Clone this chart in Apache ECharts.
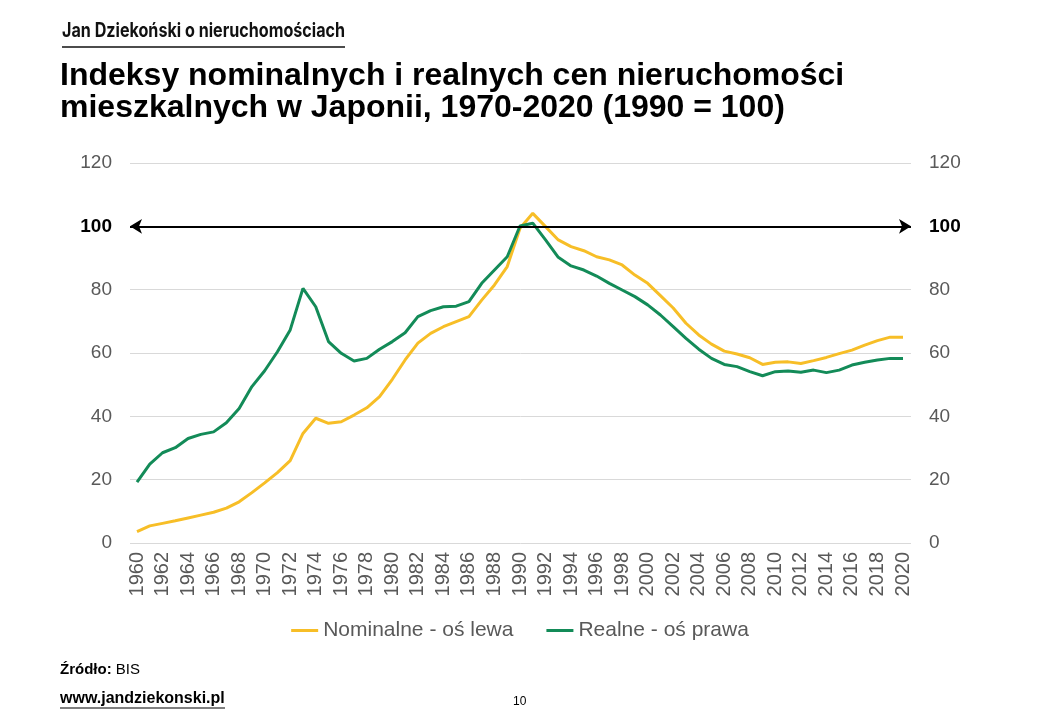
<!DOCTYPE html>
<html>
<head>
<meta charset="utf-8">
<title>Japonia - indeksy cen nieruchomości</title>
<script src="https://cdn.jsdelivr.net/npm/echarts@6/dist/echarts.min.js"></script>
<style>
  html, body { margin: 0; padding: 0; background: #fff; }
  #chart { width: 1040px; height: 720px; }
</style>
</head>
<body>
<div id="chart"></div>
<script>
// lata na osi X
const years = [
  '1960', '1961', '1962', '1963', '1964', '1965', '1966', '1967', '1968', '1969',
  '1970', '1971', '1972', '1973', '1974', '1975', '1976', '1977', '1978', '1979',
  '1980', '1981', '1982', '1983', '1984', '1985', '1986', '1987', '1988', '1989',
  '1990', '1991', '1992', '1993', '1994', '1995', '1996', '1997', '1998', '1999',
  '2000', '2001', '2002', '2003', '2004', '2005', '2006', '2007', '2008', '2009',
  '2010', '2011', '2012', '2013', '2014', '2015', '2016', '2017', '2018', '2019',
  '2020',
];
// indeks nominalny (oś lewa)
const nominal = [
  3.6, 5.4, 6.2, 7.0, 7.9, 8.8, 9.7, 11.0, 13.0, 15.9,
  19.0, 22.2, 26.0, 34.6, 39.4, 37.8, 38.3, 40.4, 42.7, 46.2,
  51.7, 57.8, 63.1, 66.2, 68.3, 69.9, 71.5, 76.7, 81.5, 87.3,
  99.4, 104.1, 99.9, 95.7, 93.6, 92.3, 90.4, 89.4, 87.8, 84.6,
  82.0, 78.1, 74.2, 69.4, 65.7, 62.8, 60.6, 59.7, 58.5, 56.4,
  57.1, 57.2, 56.7, 57.6, 58.6, 59.8, 60.9, 62.5, 63.9, 65.0,
  65.0,
];
// indeks realny (oś prawa)
const real = [
  19.2, 24.9, 28.5, 30.1, 33.0, 34.3, 35.1, 38.0, 42.5, 49.4,
  54.4, 60.4, 67.3, 80.4, 74.6, 63.6, 59.9, 57.5, 58.3, 61.2,
  63.6, 66.4, 71.5, 73.4, 74.6, 74.8, 76.2, 82.0, 86.2, 90.4,
  100.1, 101.0, 95.7, 90.2, 87.5, 86.2, 84.3, 82.0, 79.9, 77.8,
  75.2, 72.0, 68.3, 64.6, 61.2, 58.3, 56.4, 55.7, 54.1, 52.8,
  54.1, 54.3, 53.9, 54.6, 53.8, 54.6, 56.2, 57.1, 57.8, 58.3,
  58.3,
];
const seriesNames = ['Nominalne - oś lewa', 'Realne - oś prawa'];
const baseLevel = 100;

const FONT = '"Liberation Sans", Arial, sans-serif';
const GREY = '#595959';
const YELLOW = '#F7BE27';
const GREEN = '#138B58';

const myChart = echarts.init(document.getElementById('chart'), null, { renderer: 'canvas' });

// etykiety osi Y - 100 pogrubione
function yLabel(value) {
  return value === baseLevel ? `{b|${value}}` : `${value}`;
}
const yRich = {
  b: { fontWeight: 'bold', color: '#000', fontSize: 19, fontFamily: FONT },
};
const yScale = { type: 'value', min: 0, max: 120, interval: 20 };
const hiddenY = {
  ...yScale,
  show: false,
  splitLine: { show: false },
};

myChart.setOption({
  animation: false,
  backgroundColor: '#fff',
  textStyle: { fontFamily: FONT },
  graphic: [
    {
      type: 'text',
      left: 62,
      top: 21,
      scaleX: 0.806,
      style: {
        text: 'Jan Dziekoński o nieruchomościach',
        font: 'bold 20px Inter, "Liberation Sans", sans-serif',
        fill: '#111',
      },
    },
    {
      type: 'line',
      shape: { x1: 62, y1: 47, x2: 345, y2: 47 },
      style: { stroke: '#111', lineWidth: 1.5 },
    },
    {
      type: 'text',
      left: 60,
      top: 60,
      style: {
        text: 'Indeksy nominalnych i realnych cen nieruchomości\nmieszkalnych w Japonii, 1970-2020 (1990 = 100)',
        font: `bold 32px ${FONT}`,
        lineHeight: 32,
        fill: '#000',
      },
    },
    {
      type: 'text',
      left: 60,
      top: 662,
      style: {
        text: '{b|Źródło:} BIS',
        font: `15px ${FONT}`,
        fill: '#000',
        rich: { b: { fontWeight: 'bold', fontSize: 15, fontFamily: FONT } },
      },
    },
    {
      type: 'text',
      left: 60,
      top: 691,
      style: {
        text: 'www.jandziekonski.pl',
        font: `bold 16px ${FONT}`,
        fill: '#000',
      },
    },
    {
      type: 'line',
      shape: { x1: 60, y1: 708, x2: 225, y2: 708 },
      style: { stroke: '#000', lineWidth: 1.2 },
    },
    {
      type: 'text',
      left: 513,
      top: 696,
      style: { text: '10', font: `12px ${FONT}`, fill: '#000' },
    },
  ],
  grid: [
    // siatka, osie Y i strzałka 100
    { left: 130, right: 129, top: 163, bottom: 177 },
    // linie danych (lekko wcięte od brzegów siatki)
    { left: 137, right: 137, top: 163, bottom: 177 },
  ],
  legend: {
    data: seriesNames,
    top: 615,
    left: 'center',
    icon: 'rect',
    itemWidth: 27,
    itemHeight: 3,
    itemGap: 33,
    textStyle: { color: GREY, fontSize: 21, fontFamily: FONT },
  },
  xAxis: [
    {
      type: 'category',
      gridIndex: 0,
      data: years,
      boundaryGap: false,
      show: false,
    },
    {
      type: 'category',
      gridIndex: 1,
      data: years,
      boundaryGap: false,
      axisLine: { show: false },
      axisTick: { show: false },
      axisLabel: {
        interval: 1,
        rotate: 90,
        color: GREY,
        fontSize: 20,
        margin: 9,
        fontFamily: FONT,
      },
    },
  ],
  yAxis: [
    {
      ...yScale,
      gridIndex: 0,
      axisLine: { show: false },
      axisTick: { show: false },
      axisLabel: {
        color: GREY, fontSize: 19, margin: 18, fontFamily: FONT, formatter: yLabel, rich: yRich,
      },
      splitLine: { lineStyle: { color: '#d9d9d9', width: 1 } },
    },
    {
      ...yScale,
      gridIndex: 0,
      position: 'right',
      axisLine: { show: false },
      axisTick: { show: false },
      axisLabel: {
        color: GREY, fontSize: 19, margin: 18, fontFamily: FONT, formatter: yLabel, rich: yRich,
      },
      splitLine: { show: false },
    },
    { ...hiddenY, gridIndex: 1 },
    { ...hiddenY, gridIndex: 1, position: 'right' },
  ],
  series: [
    {
      // tylko linia poziomu 100 ze strzałkami
      name: 'base',
      type: 'line',
      xAxisIndex: 0,
      yAxisIndex: 0,
      data: [],
      symbol: 'none',
      markLine: {
        silent: true,
        symbol: ['arrow', 'arrow'],
        symbolSize: [11, 12],
        label: { show: false },
        lineStyle: { color: '#000', width: 2, type: 'solid' },
        data: [{ yAxis: baseLevel }],
      },
      z: 2,
    },
    {
      name: seriesNames[0],
      type: 'line',
      data: nominal,
      xAxisIndex: 1,
      yAxisIndex: 2,
      symbol: 'none',
      lineStyle: { color: YELLOW, width: 3 },
      itemStyle: { color: YELLOW },
      z: 3,
    },
    {
      name: seriesNames[1],
      type: 'line',
      data: real,
      xAxisIndex: 1,
      yAxisIndex: 3,
      symbol: 'none',
      lineStyle: { color: GREEN, width: 3 },
      itemStyle: { color: GREEN },
      z: 4,
    },
  ],
});
</script>
</body>
</html>
